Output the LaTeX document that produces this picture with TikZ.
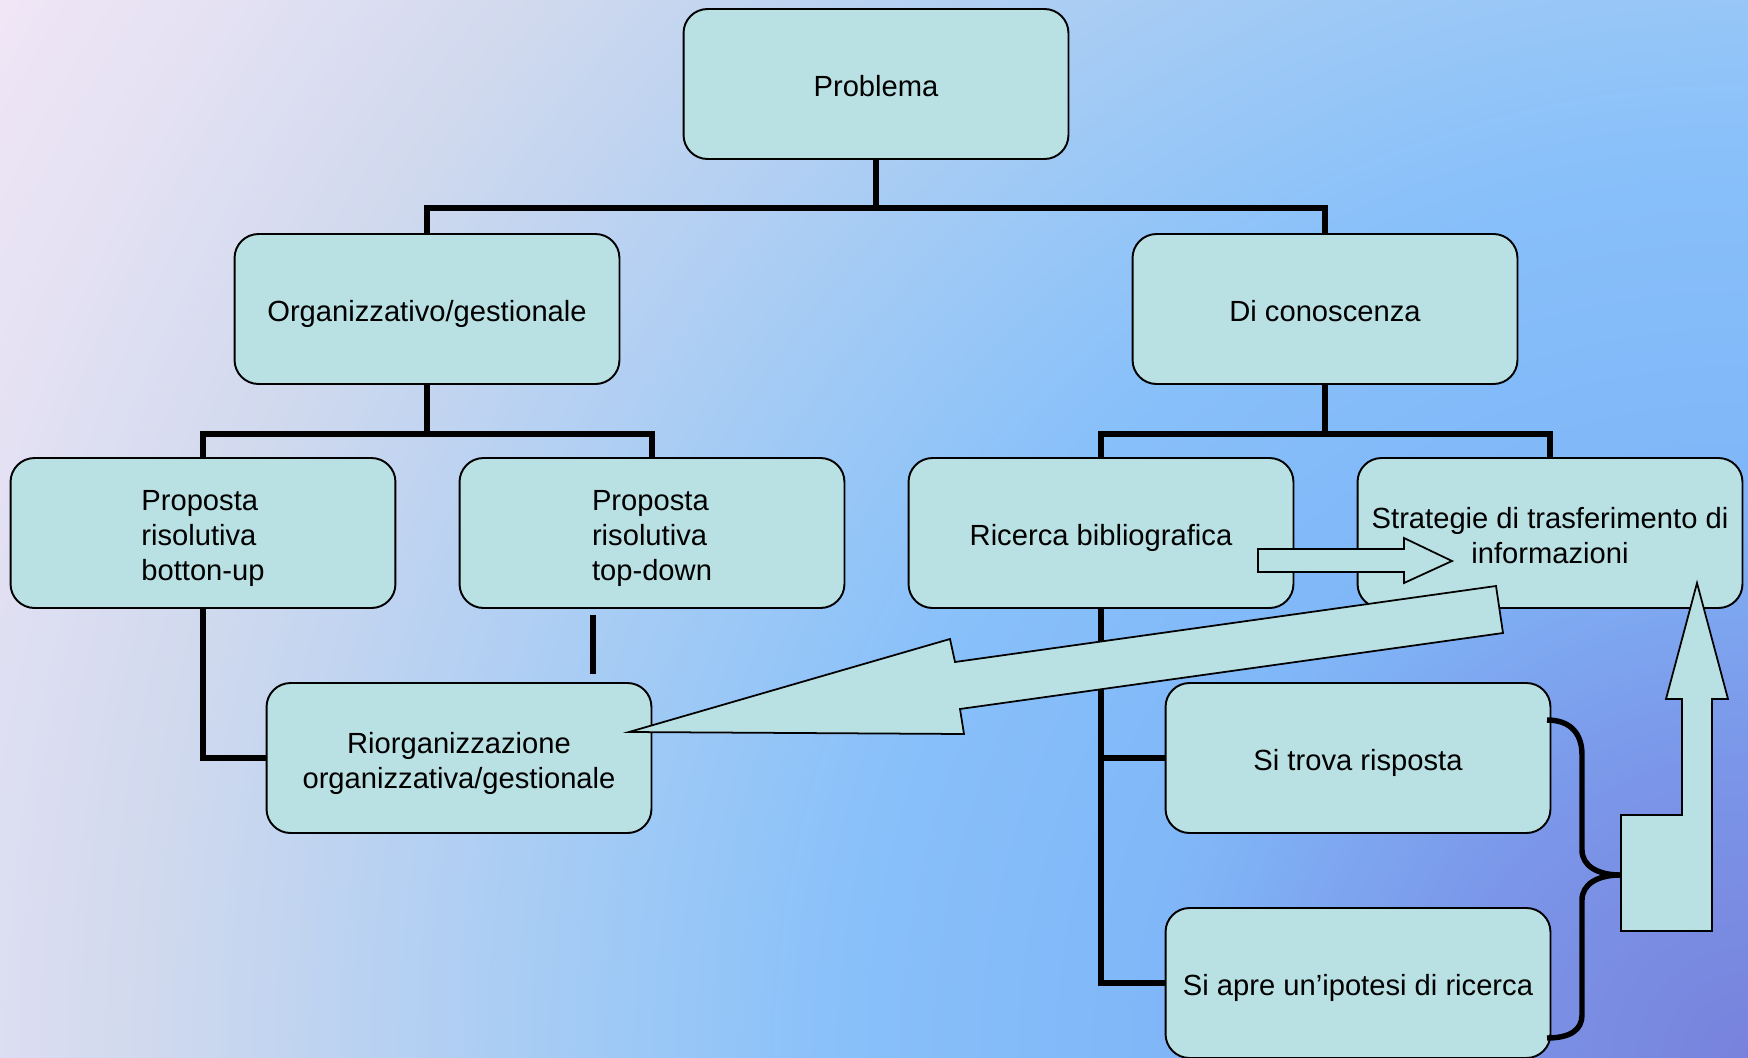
\documentclass[tikz,border=0pt]{standalone}
\usepackage{fontspec}
\setmainfont{Liberation Sans}
\definecolor{boxfill}{RGB}{185,224,227}
\definecolor{bgA}{RGB}{120,130,220}
\definecolor{bgB}{RGB}{123,150,232}
\definecolor{bgC}{RGB}{128,183,248}
\definecolor{bgD}{RGB}{136,192,250}
\definecolor{bgE}{RGB}{155,200,246}
\definecolor{bgF}{RGB}{208,217,238}
\definecolor{bgG}{RGB}{228,225,243}
\definecolor{bgH}{RGB}{240,230,246}
\pgfdeclareradialshading{bgshade}{\pgfpoint{0bp}{0bp}}{color(0bp)=(bgA); color(3.57bp)=(bgB); color(7.14bp)=(bgC); color(10.7bp)=(bgD); color(13.1bp)=(bgE); color(19.05bp)=(bgF); color(22bp)=(bgG); color(24.35bp)=(bgH); color(50bp)=(bgH)}
\begin{document}
\begin{tikzpicture}[x=0.02cm,y=-0.02cm,
  box/.style={draw=black, line width=1.1pt, fill=boxfill, rounded corners=0.48cm,
    minimum width=7.7cm, minimum height=3cm, inner sep=0pt,
    font=\fontsize{16.6}{19.9}\selectfont, align=center, text=black,
    execute at begin node={\rule{0pt}{17.8pt}},
    execute at end node={\rule[-3.5pt]{0pt}{3.5pt}}},
  ml/.style={execute at begin node={\rule{0pt}{#1}}},
  conn/.style={draw=black, line width=3.1pt},
  blockarrow/.style={draw=black, line width=1pt, fill=boxfill, line join=miter}]
\useasboundingbox (0,0) rectangle (1748,1058);
\begin{scope}
  \clip (0,0) rectangle (1748,1058);
  \shade[shading=bgshade] (1748,1058) circle (2100);
\end{scope}

% boxes
\node[box] (prob) at (876,84) {Problema};
\node[box] (org) at (427,309) {Organizzativo/gestionale};
\node[box] (dic) at (1325,309) {Di conoscenza};
\node[box,align=left,ml=57.6pt] (bu) at (203,533) {Proposta\\risolutiva\\botton-up};
\node[box,align=left,ml=57.6pt] (td) at (652,533) {Proposta\\risolutiva\\top-down};
\node[box] (rb) at (1101,533) {Ricerca bibliografica};
\node[box,ml=37.7pt] (st) at (1550,533) {Strategie di trasferimento di\\informazioni};
\node[box,ml=37.7pt] (rio) at (459,758) {Riorganizzazione\\organizzativa/gestionale};
\node[box] (str) at (1358,758) {Si trova risposta};
\node[box] (sap) at (1358,983) {Si apre un’ipotesi di ricerca};

% connectors
\coordinate (j1) at (876,208);
\draw[conn] (prob.south) -- (j1);
\draw[conn] (org.north) |- (j1) -| (dic.north);
\coordinate (j2) at (427,434);
\draw[conn] (org.south) -- (j2);
\draw[conn] (bu.north) |- (j2) -| (td.north);
\coordinate (j3) at (1325,434);
\draw[conn] (dic.south) -- (j3);
\draw[conn] (rb.north) |- (j3) -| (st.north);
\draw[conn] (bu.south) |- (rio.west);
\coordinate (tdA) at (593,615);
\coordinate (tdB) at (593,674);
\draw[conn] (tdA) -- (tdB);
\draw[conn] (rb.south) |- (sap.west);
\draw[conn] (rb.south |- str.west) -- (str.west);

% brace
\coordinate (brT) at (1547,720);
\coordinate (brM) at (1620,875);
\coordinate (brB) at (1547,1038);
\draw[conn] (brT) .. controls (1570,720) and (1582,733) .. (1582,755) -- (1582,850)
  .. controls (1582,866) and (1598,875) .. (brM);
\draw[conn] (brM) .. controls (1598,875) and (1582,884) .. (1582,900) -- (1582,1015)
  .. controls (1582,1030) and (1570,1038) .. (brB);

% block arrows
\draw[blockarrow] (1258,549) -- (1404,549) -- (1404,538) -- (1452,561) -- (1404,583)
  -- (1404,572) -- (1258,572) -- cycle;
\draw[blockarrow] (629,732) -- (950,639) -- (955,662) -- (1496,586) -- (1503,633)
  -- (960,709) -- (964,734) -- cycle;
\draw[blockarrow] (1621,931) -- (1712,931) -- (1712,699) -- (1728,699) -- (1697,583)
  -- (1666,699) -- (1682,699) -- (1682,815) -- (1621,815) -- cycle;
\end{tikzpicture}
\end{document}
